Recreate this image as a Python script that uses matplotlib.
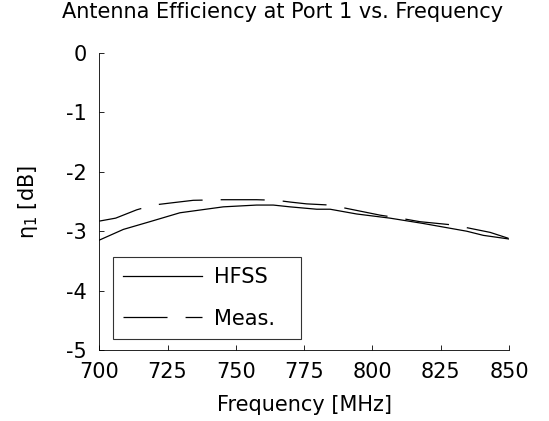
import matplotlib
matplotlib.use("Agg")
import matplotlib.pyplot as plt

plt.rcParams['font.family'] = ['DejaVu Sans']
plt.rcParams['lines.scale_dashes'] = False
plt.rcParams['axes.unicode_minus'] = False
plt.rcParams['mathtext.fontset'] = 'dejavusans'

hfss_f = [700, 708.8, 718.5, 729.5, 745.4, 757.6, 763.7, 769.8, 779.6, 784.5, 794.2, 806.4, 818.6, 834.5, 840.6, 849.8]
hfss_eff = [-3.15, -2.97, -2.84, -2.69, -2.59, -2.56, -2.56, -2.59, -2.63, -2.63, -2.71, -2.78, -2.87, -3.0, -3.07, -3.13]

meas_f = [700, 706, 713.7, 719.8, 727, 734.4, 745, 757.6, 764.9, 770, 775.9, 784.5, 794.2, 802.8, 810, 817.4, 828.4, 834.5, 843.1, 849.8]
meas_eff = [-2.83, -2.78, -2.64, -2.56, -2.52, -2.48, -2.47, -2.47, -2.48, -2.51, -2.54, -2.56, -2.65, -2.73, -2.78, -2.84, -2.89, -2.94, -3.02, -3.12]

xticks = [700, 725, 750, 775, 800, 825, 850]
yticks = [0, -1, -2, -3, -4, -5]

FS = 15

fig = plt.figure(figsize=(5.49, 4.21), dpi=100)
ax = fig.add_axes([99.3/549, 1-350/421, (509-99.3)/549, (350-53)/421])

ax.plot(hfss_f, hfss_eff, color='black', lw=0.9, label='HFSS')
ax.plot(meas_f, meas_eff, color='black', lw=0.9, ls=(0, (31.7, 13)), label='Meas.')

ax.set_xlim(700, 850)
ax.set_ylim(-5, 0)
ax.set_xticks(xticks)
ax.set_yticks(yticks)
ax.tick_params(direction='in', length=3.5, width=0.6, labelsize=FS)
ax.tick_params(axis='y', pad=9)
ax.tick_params(axis='x', pad=9)
for s in ['top', 'right']:
    ax.spines[s].set_visible(False)
for s in ['left', 'bottom']:
    ax.spines[s].set_linewidth(0.6)

ax.set_xlabel('Frequency [MHz]', fontsize=FS, labelpad=9)
ax.set_ylabel(r'$\mathregular{\eta_1}$ [dB]', fontsize=FS, labelpad=19)
fig.text(283/549, 1-12/421, 'Antenna Efficiency at Port 1 vs. Frequency', fontsize=FS, ha='center', va='center')

leg = ax.legend(loc='lower left', bbox_to_anchor=((112.7-99.3)/409.7, (350-339)/297, (301-112.7)/409.7, 0.0),
                mode='expand', fontsize=FS, frameon=True, fancybox=False, handlelength=3.8, borderaxespad=0,
                handletextpad=0.55, labelspacing=1.04, borderpad=0.5)
leg.get_frame().set_edgecolor('black')
leg.get_frame().set_linewidth(0.8)

fig.savefig('out.png', dpi=100)
